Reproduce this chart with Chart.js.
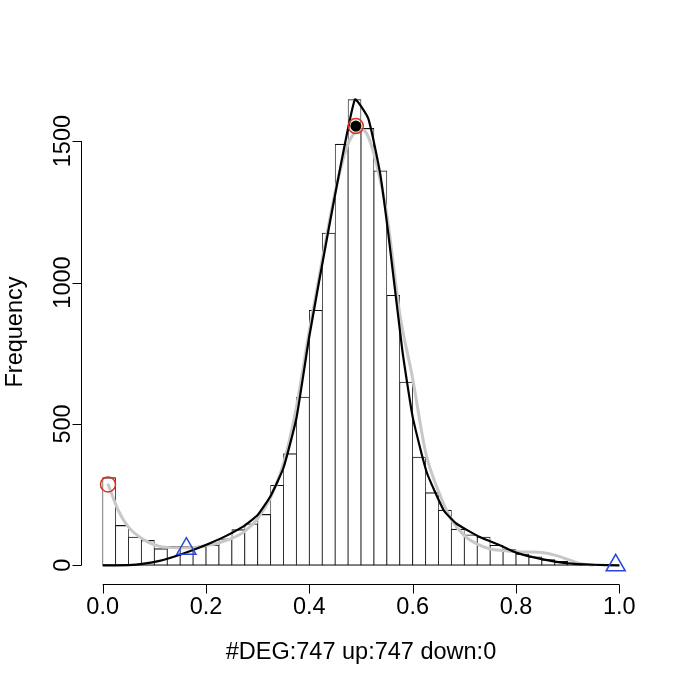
<!DOCTYPE html>
<html lang="en">
<head>
  <meta charset="UTF-8" />
  <title>DEG histogram</title>
  <script src="https://cdn.jsdelivr.net/npm/chart.js"></script>
  <style>
    body { margin: 0; background: white; }
    canvas { display: block; }
  </style>
</head>
<body>
  <canvas id="histChart" width="685" height="685"></canvas>

  <script>
    // histogram: 40 bins of width 0.025 on [0, 1]
    const binWidth = 0.025;
    const counts = [
      310, 141, 100, 88, 59, 67, 67, 67, 72, 94,
      126, 147, 180, 283, 395, 595, 902, 1175, 1489, 1647,
      1545, 1395, 955, 648, 383, 257, 195, 128, 108, 100,
      71, 56, 40, 30, 20, 14, 7, 4, 2, 1
    ];

    // smoothed density (grey)
    const smoothX = [0.01, 0.03, 0.05, 0.08, 0.11, 0.145, 0.175, 0.2, 0.225, 0.25,
      0.275, 0.3, 0.325, 0.35, 0.375, 0.4, 0.425, 0.45, 0.475, 0.5,
      0.51, 0.53, 0.55, 0.575, 0.6, 0.625, 0.65, 0.675, 0.7, 0.725,
      0.75, 0.775, 0.8, 0.825, 0.85, 0.875, 0.9, 0.925, 0.95];
    const smoothY = [289, 195, 135, 90, 67, 62, 63, 70, 80, 95,
      120, 165, 240, 360, 560, 830, 1080, 1320, 1490, 1540,
      1530, 1420, 1240, 890, 660, 400, 262, 162, 105, 75,
      58, 52, 48, 47, 45, 36, 21, 6, 1];

    // fitted curve (black)
    const fitX = [0.0, 0.05, 0.08, 0.11, 0.145, 0.18, 0.21, 0.24, 0.27, 0.3,
      0.325, 0.35, 0.375, 0.4, 0.437, 0.488, 0.514, 0.537, 0.553, 0.58,
      0.6, 0.627, 0.66, 0.685, 0.73, 0.77, 0.8, 0.85, 0.9, 0.95, 1.0];
    const fitY = [0, 1, 6, 16, 35, 58, 80, 105, 135, 178,
      245, 345, 520, 810, 1185, 1647, 1580, 1386, 1170, 760,
      525, 330, 195, 147, 100, 70, 45, 22, 7, 2, 0];

    // marked points
    const redRingPts = [{ x: 0.0103, y: 286 }, { x: 0.49, y: 1553 }];
    const blackDotPts = [{ x: 0.49, y: 1553 }];
    const bluePts = [{ x: 0.162, y: 59 }, { x: 0.993, y: 0 }];

    const xTicks = [0, 0.2, 0.4, 0.6, 0.8, 1.0];
    const yTicks = [0, 500, 1000, 1500];
    const xTitle = '#DEG:747 up:747 down:0';
    const yTitle = 'Frequency';

    const histData = counts.map((c, i) => ({ x: binWidth / 2 + i * binWidth, y: c }));
    const zip = (xs, ys) => xs.map((v, i) => ({ x: v, y: ys[i] }));

    const FONT = '23.5px "Liberation Sans", Arial, sans-serif';

    // R style axes: detached, line only between first and last tick
    const rAxes = {
      id: 'rAxes',
      afterDraw(chart) {
        const { ctx, chartArea } = chart;
        const xs = chart.scales.x, ys = chart.scales.y;
        ctx.save();
        ctx.strokeStyle = '#000';
        ctx.fillStyle = '#000';
        ctx.lineWidth = 1;
        ctx.font = FONT;

        const ax = chartArea.bottom + 0.5;
        ctx.beginPath();
        ctx.moveTo(xs.getPixelForValue(xTicks[0]), ax);
        ctx.lineTo(xs.getPixelForValue(xTicks[xTicks.length - 1]), ax);
        xTicks.forEach(t => {
          const px = Math.round(xs.getPixelForValue(t)) + 0.5;
          ctx.moveTo(px, ax);
          ctx.lineTo(px, ax + 9);
        });
        ctx.stroke();
        ctx.textAlign = 'center';
        ctx.textBaseline = 'alphabetic';
        xTicks.forEach(t => ctx.fillText(t.toFixed(1), xs.getPixelForValue(t), 614));
        ctx.fillText(xTitle, (xs.getPixelForValue(0) + xs.getPixelForValue(1)) / 2, 659);

        const ay = chartArea.left - 0.5;
        ctx.beginPath();
        ctx.moveTo(ay, ys.getPixelForValue(yTicks[0]));
        ctx.lineTo(ay, ys.getPixelForValue(yTicks[yTicks.length - 1]));
        yTicks.forEach(t => {
          const py = Math.round(ys.getPixelForValue(t)) + 0.5;
          ctx.moveTo(ay, py);
          ctx.lineTo(ay - 9, py);
        });
        ctx.stroke();
        yTicks.forEach(t => {
          ctx.save();
          ctx.translate(70, ys.getPixelForValue(t));
          ctx.rotate(-Math.PI / 2);
          ctx.fillText(String(t), 0, 0);
          ctx.restore();
        });
        ctx.save();
        ctx.translate(22, (chartArea.top + chartArea.bottom) / 2);
        ctx.rotate(-Math.PI / 2);
        ctx.fillText(yTitle, 0, 0);
        ctx.restore();
        ctx.restore();
      }
    };

    new Chart(document.getElementById('histChart'), {
      data: {
        datasets: [
          {
            type: 'scatter',
            data: redRingPts,
            pointStyle: 'circle',
            pointRadius: 7.5,
            pointBackgroundColor: 'rgba(0,0,0,0)',
            pointBorderColor: 'rgb(215,50,30)',
            pointBorderWidth: 1.5,
            order: 0
          },
          {
            type: 'scatter',
            data: blackDotPts,
            pointStyle: 'circle',
            pointRadius: 5.5,
            pointBackgroundColor: '#000',
            pointBorderWidth: 0,
            order: 1
          },
          {
            type: 'scatter',
            data: bluePts,
            pointStyle: 'triangle',
            pointRadius: 11,
            pointBackgroundColor: 'rgba(0,0,0,0)',
            pointBorderColor: 'rgb(40,70,220)',
            pointBorderWidth: 1.5,
            order: 1
          },
          {
            type: 'line',
            data: zip(fitX, fitY),
            borderColor: '#000',
            borderWidth: 2.2,
            pointRadius: 0,
            tension: 0.15,
            fill: false,
            order: 2
          },
          {
            type: 'line',
            data: zip(smoothX, smoothY),
            borderColor: '#c8c8c8',
            borderWidth: 3,
            pointRadius: 0,
            cubicInterpolationMode: 'monotone',
            fill: false,
            order: 3
          },
          {
            type: 'bar',
            data: histData,
            backgroundColor: '#fff',
            borderColor: '#111',
            borderWidth: { top: 1.1, bottom: 1.1, left: 0.8, right: 0.8 },
            borderSkipped: false,
            barPercentage: 1,
            categoryPercentage: 1,
            order: 4
          }
        ]
      },
      options: {
        responsive: false,
        animation: false,
        devicePixelRatio: 1,
        layout: { padding: { left: 82, right: 45, top: 80, bottom: 101 } },
        plugins: { legend: { display: false }, tooltip: { enabled: false } },
        scales: {
          x: { type: 'linear', min: -0.04, max: 1.04, offset: false, display: false },
          y: { type: 'linear', min: -66, max: 1716, display: false }
        }
      },
      plugins: [rAxes]
    });
  </script>
</body>
</html>
